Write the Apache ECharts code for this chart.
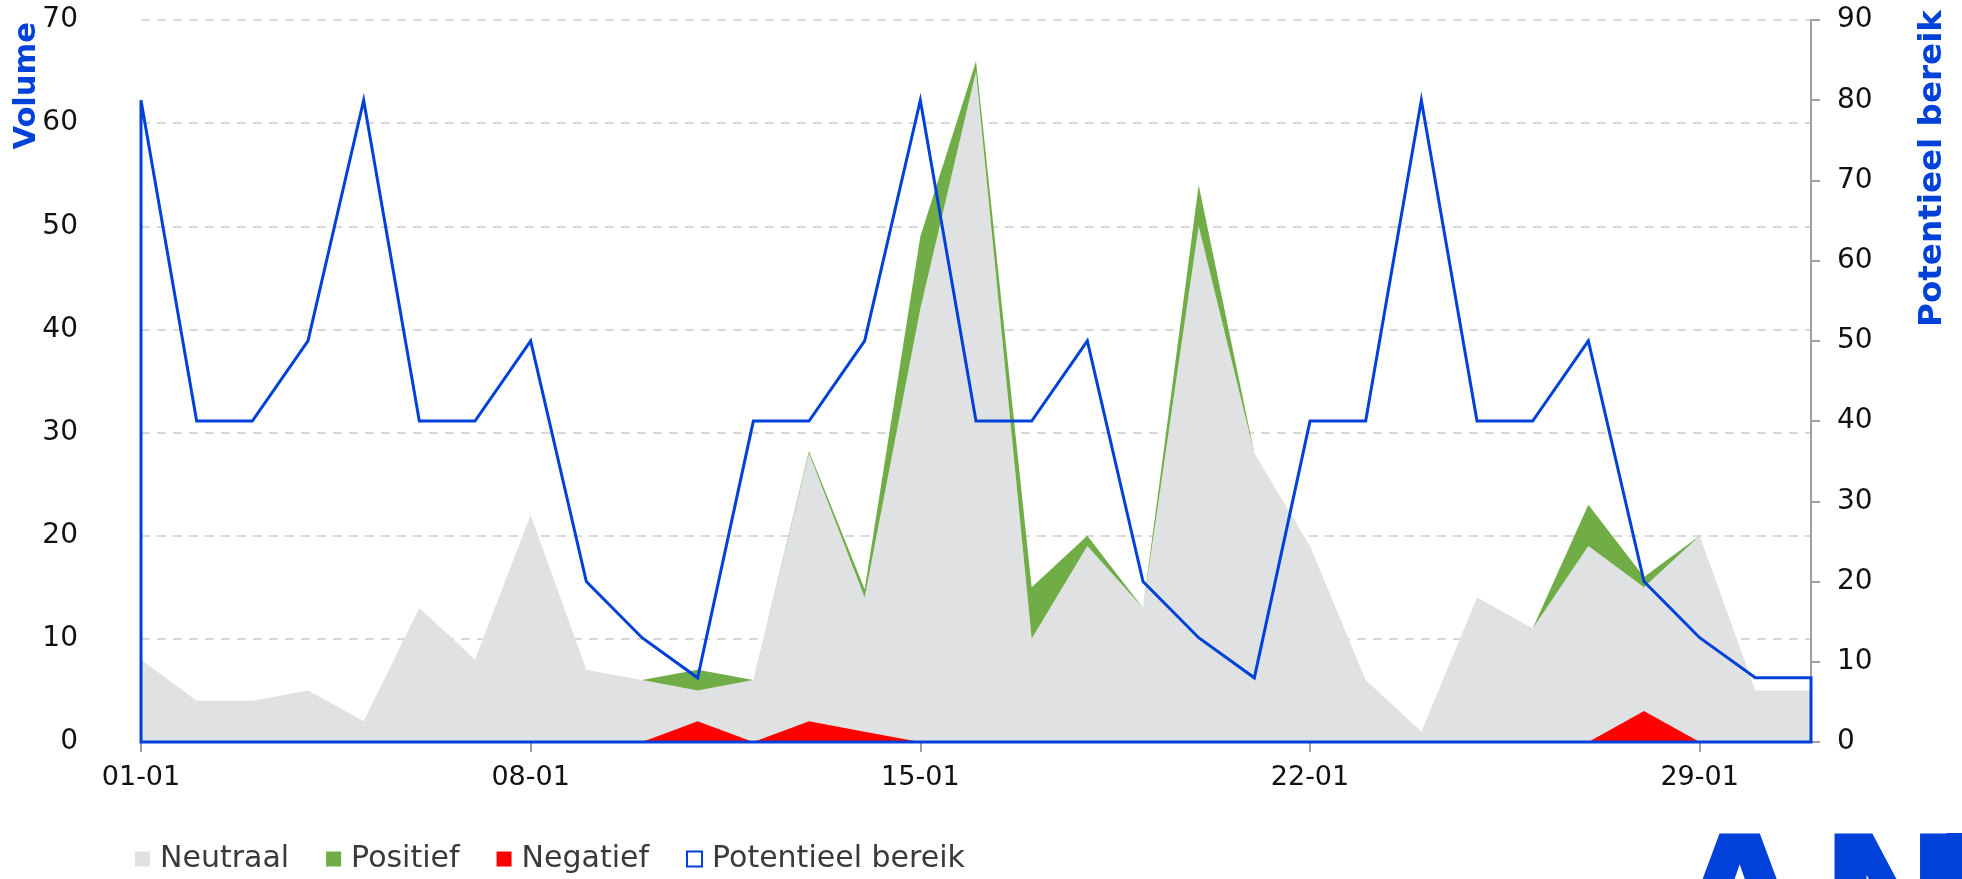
<!DOCTYPE html>
<html>
<head>
<meta charset="utf-8">
<script src="https://cdn.jsdelivr.net/npm/echarts@6/dist/echarts.min.js"></script>
<style>
html,body{margin:0;padding:0;background:#fff;}
#chart{width:1962px;height:879px;}
</style>
</head>
<body>
<div id="chart"></div>
<script>
// ---- data ----
const categories = ['01-01','02-01','03-01','04-01','05-01','06-01','07-01','08-01','09-01','10-01',
  '11-01','12-01','13-01','14-01','15-01','16-01','17-01','18-01','19-01','20-01',
  '21-01','22-01','23-01','24-01','25-01','26-01','27-01','28-01','29-01','30-01','31-01'];
const negatief  = [0,0,0,0,0,0,0,0,0,0, 2,0,2,1,0,0,0,0,0,0, 0,0,0,0,0,0,0,3,0,0,0];
const neutraal  = [8,4,4,5,2,13,8,22,7,6, 3,6,26,13,42,65,10,19,13,50, 28,19,6,1,14,11,19,12,20,5,5];
const positief  = [0,0,0,0,0,0,0,0,0,0, 2,0,0.2,0.8,7,1,5,1,0,4, 0,0,0,0,0,0,4,1,0,0,0];
const potentieel = [80,40,40,50,80,40,40,50,20,13, 8,40,40,50,80,40,40,50,20,13, 8,40,40,80,40,40,50,20,13,8,8];
const volumeTicks = {min:0, max:70, interval:10};
const bereikTicks = {min:0, max:90, interval:10};

const BLUE = '#0041d9';
const FONT = 'DejaVu Sans';

const chart = echarts.init(document.getElementById('chart'));
chart.setOption({
  animation:false,
  backgroundColor:'#fff',
  textStyle:{fontFamily:FONT},
  grid:{left:141, right:151, top:20, bottom:137, containLabel:false},
  legend:{
    bottom:0, left:130,
    itemWidth:15, itemHeight:15, itemGap:37,
    textStyle:{fontSize:30, color:'#3a3a3a', fontFamily:FONT, padding:[0,0,0,5]},
    data:[
      {name:'Neutraal', icon:'rect'},
      {name:'Positief', icon:'rect'},
      {name:'Negatief', icon:'rect'},
      {name:'Potentieel bereik', icon:'rect', itemStyle:{color:'#fff', borderColor:BLUE, borderWidth:2}}
    ]
  },
  xAxis:{
    type:'category', data:categories, boundaryGap:false,
    axisLine:{lineStyle:{color:'#a0a0a0', width:2}},
    axisTick:{show:true, interval:6, length:10, lineStyle:{color:'#a0a0a0', width:2}},
    axisLabel:{interval:6, fontSize:27, color:'#111', margin:22, fontFamily:FONT},
    splitLine:{show:false}
  },
  yAxis:[
    {
      type:'value', min:volumeTicks.min, max:volumeTicks.max, interval:volumeTicks.interval,
      axisLine:{show:false}, axisTick:{show:false},
      axisLabel:{fontSize:28, color:'#111', margin:63, fontFamily:FONT},
      splitLine:{show:true, lineStyle:{color:'#d9d9d9', width:2, type:[9,7]}}
    },
    {
      type:'value', position:'right', min:bereikTicks.min, max:bereikTicks.max, interval:bereikTicks.interval,
      axisLine:{show:true, lineStyle:{color:'#a0a0a0', width:2}},
      axisTick:{show:true, length:9, lineStyle:{color:'#a0a0a0', width:2}},
      axisLabel:{fontSize:28, color:'#111', margin:26, fontFamily:FONT},
      splitLine:{show:false}
    }
  ],
  series:[
    {
      name:'Negatief', type:'line', stack:'vol', data:negatief, symbol:'none',
      lineStyle:{width:0}, itemStyle:{color:'#ff0000'},
      areaStyle:{color:'#ff0000', opacity:1}, z:3
    },
    {
      name:'Neutraal', type:'line', stack:'vol', data:neutraal, symbol:'none',
      lineStyle:{width:0}, itemStyle:{color:'#e0e1e3'},
      areaStyle:{color:'#e0e1e3', opacity:1}, z:2
    },
    {
      name:'Positief', type:'line', stack:'vol', data:positief, symbol:'none',
      lineStyle:{width:0}, itemStyle:{color:'#70ad47'},
      areaStyle:{color:'#70ad47', opacity:1}, z:2
    },
    {
      name:'Potentieel bereik', type:'custom', yAxisIndex:1,
      data: potentieel.map((v,i)=>[categories[i], v]),
      encode:{x:0, y:1},
      itemStyle:{color:BLUE},
      z:5,
      renderItem:function(params, api){
        if (params.dataIndex !== 0) return null;
        const pts = potentieel.map((v,i)=>api.coord([i, v]));
        const start = api.coord([0, 0]);
        const end = api.coord([potentieel.length-1, 0]);
        return {
          type:'polygon',
          shape:{points:[start].concat(pts, [end])},
          style:{fill:'none', stroke:BLUE, lineWidth:3, lineJoin:'miter'}
        };
      }
    }
  ],
  graphic:[
    {type:'text', x:27, y:22, rotation:Math.PI/2,
     style:{text:'Volume', fill:BLUE, font:'bold 30.5px "DejaVu Sans"', textAlign:'right', textVerticalAlign:'middle'}},
    {type:'text', x:1933, y:10, rotation:Math.PI/2,
     style:{text:'Potentieel bereik', fill:BLUE, font:'bold 32.6px "DejaVu Sans"', textAlign:'right', textVerticalAlign:'middle'}},
    {type:'text', x:1670, y:828, style:{text:'A', fill:BLUE, font:'900 180px "DejaVu Sans"', textVerticalAlign:'top'}},
    {type:'text', x:1818, y:828, style:{text:'N', fill:BLUE, font:'900 180px "DejaVu Sans"', textVerticalAlign:'top'}},
    {type:'text', x:1930, y:828, style:{text:'P', fill:BLUE, font:'900 180px "DejaVu Sans"', textVerticalAlign:'top'}}
  ]
});
</script>
</body>
</html>
